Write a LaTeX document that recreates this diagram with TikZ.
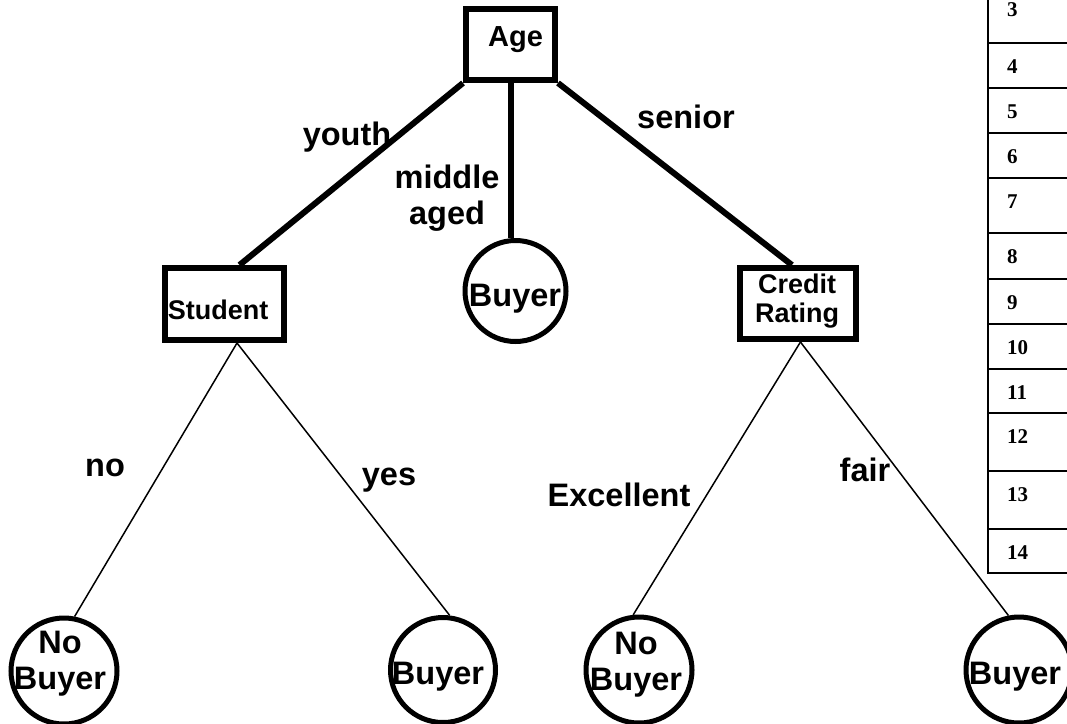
\documentclass[tikz,border=0pt]{standalone}
\usepackage{fontspec}
\setmainfont{Liberation Sans}
\newfontfamily\numfont{Liberation Serif}
\usetikzlibrary{calc}

\begin{document}
\begin{tikzpicture}[x=1pt,y=-1pt,
  box/.style={draw, line width=6pt, inner sep=0pt},
  leaf/.style={draw, circle, line width=5pt, inner sep=0pt, minimum size=106pt},
  txt/.style={font=\bfseries\fontsize{32.5}{36}\selectfont, align=center, inner sep=0pt},
  boxtxt/.style={font=\bfseries\fontsize{27}{28.5}\selectfont, align=center, inner sep=0pt},
  trunk/.style={line width=6pt},
  branch/.style={line width=1.5pt},
  gridline/.style={line width=2pt},
  num/.style={font=\numfont\bfseries\fontsize{21}{24}\selectfont, anchor=west, inner sep=0pt}]

\clip (0,0) rectangle (1067,723);

% decision nodes
\node[box, minimum width=89pt, minimum height=71pt] (age) at (510.5,44.5) {};
\node[box, minimum width=119pt, minimum height=72pt] (st) at (224.5,304) {};
\node[box, minimum width=116pt, minimum height=71pt] (cr) at (798,303.5) {};

% leaves
\node[leaf, minimum size=101pt] (mb) at (515.5,291) {};
\node[leaf] (nb1) at (64,671) {};
\node[leaf, minimum size=105pt] (b2) at (443,670) {};
\node[leaf] (nb3) at (639,670) {};
\node[leaf] (b4) at (1019,670) {};

% node texts
\node[boxtxt, font=\bfseries\fontsize{29}{31}\selectfont] (tage) at (515.5,40) {Age};
\node[boxtxt] (tst) at (218,310) {Student};
\node[boxtxt] (tcr) at (797,301) {Credit\\Rating};
\node[txt] (tmb) at (515,299) {Buyer};
\node[txt] (tnb1) at (60,664) {No\\Buyer};
\node[txt] (tb2) at (438,677) {Buyer};
\node[txt] (tnb3) at (636,665) {No\\Buyer};
\node[txt] (tb4) at (1015,677) {Buyer};

% first split
\draw[trunk] (age.south west) -- ($(st.north west)!0.62!(st.north east)$);
\draw[trunk] (age.south) -- (age.south |- mb.north);
\draw[trunk] (age.south east) -- ($(cr.north west)!0.45!(cr.north east)$);

% second level splits
\coordinate (stb) at ($(st.south west)!0.6!(st.south east)$);
\coordinate (crb) at ($(cr.south west)!0.52!(cr.south east)$);
\draw[branch] (stb) -- (nb1.79);
\draw[branch] (stb) -- (b2.83);
\draw[branch] (crb) -- (nb3.96);
\draw[branch] (crb) -- (b4.101);

% branch labels
\node[txt] (lyouth) at (347,137) {youth};
\node[txt] (lmid) at (447,198) {middle\\aged};
\node[txt] (lsenior) at (686,117) {senior};
\node[txt] (lno) at (105,468) {no};
\node[txt] (lyes) at (389,480) {yes};
\node[txt] (lexc) at (619,495) {Excellent};
\node[txt] (lfair) at (865,470) {fair};

% numbered table column
\draw[gridline] (988,-20) -- (988,573) -- (1080,573);
\foreach \y in {43,88,133,178,233,279,324,369,413,471,529}
  \draw[gridline] (988,\y) -- (1080,\y);
\foreach \n/\y in {3/10,4/67,5/112,6/157,7/202,8/257,9/303,10/348,11/393,12/437,13/495,14/553}
  \node[num] (row\n) at (1007,\y) {\n};
\end{tikzpicture}
\end{document}
